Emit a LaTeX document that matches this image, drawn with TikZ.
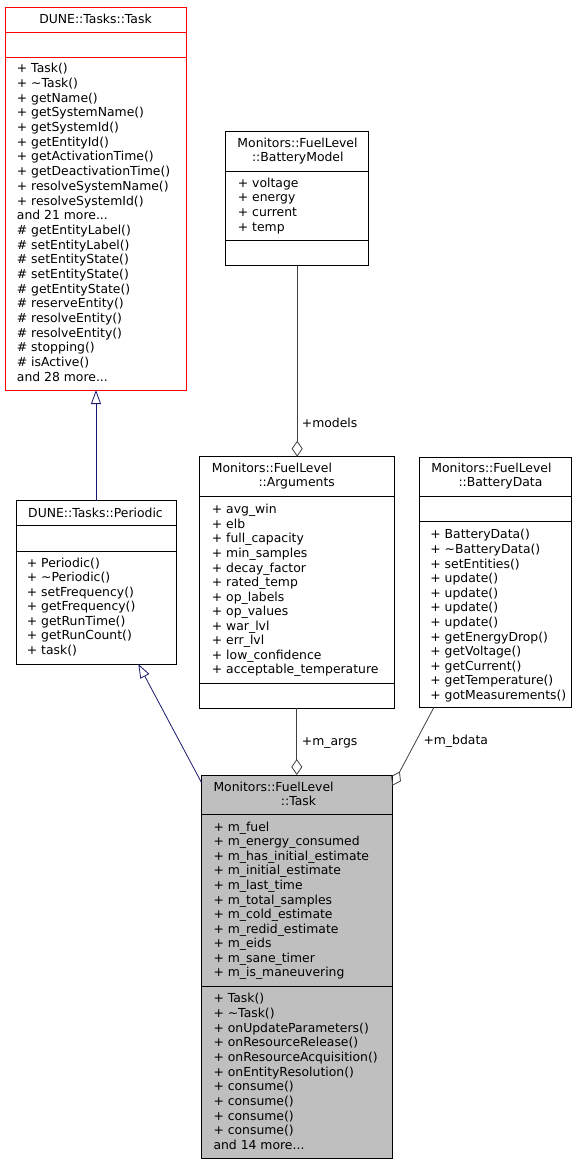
\documentclass[tikz,border=0pt]{standalone}
\usepackage{fontspec}
\setmainfont{DejaVu Sans}
\usetikzlibrary{arrows.meta}
\definecolor{edgeblue}{HTML}{191970}
\definecolor{edgegray}{HTML}{404040}
\definecolor{fillgray}{HTML}{BFBFBF}
\newcommand{\moredots}{...}
\begin{document}
\begin{tikzpicture}[x=1pt,y=-1pt,
  umlbox/.style={draw=black,line width=0.9pt,fill=white,anchor=north west,inner sep=0pt,outer sep=0pt},
  item/.style={anchor=west,inner sep=0pt,text height=9.1pt,text depth=0pt,font=\fontsize{12.4pt}{14.6pt}\selectfont},
  ctitle/.style={anchor=center,inner sep=0pt,text height=9.1pt,text depth=0pt,font=\fontsize{12.4pt}{14.6pt}\selectfont},
  inh/.style={draw=edgeblue,line width=0.8pt,-{Triangle[open,length=14pt,width=10pt]}},
  agg/.style={draw=edgegray,line width=0.8pt,-{Diamond[open,length=16pt,width=11pt]}},
  sep/.style={draw=black,line width=0.9pt}]
\useasboundingbox (0,0) rectangle (588,1165);

% ---------- DUNE::Tasks::Task ----------
\node[umlbox,draw=red,minimum width=181pt,minimum height=383pt] (task) at (5,7) {};
\draw[sep,draw=red] ([yshift=-25pt]task.north west) -- ([yshift=-25pt]task.north east);
\draw[sep,draw=red] ([yshift=-50pt]task.north west) -- ([yshift=-50pt]task.north east);
\node[ctitle] (tasktitle) at (95.5,18.8) {DUNE::Tasks::Task};
\foreach \t [count=\i] in {+ Task(),+ \textasciitilde Task(),+ getName(),+ getSystemName(),+ getSystemId(),+ getEntityId(),+ getActivationTime(),+ getDeactivationTime(),+ resolveSystemName(),+ resolveSystemId(),and 21 more\moredots,\# getEntityLabel(),\# setEntityLabel(),\# setEntityState(),\# setEntityState(),\# getEntityState(),\# reserveEntity(),\# resolveEntity(),\# resolveEntity(),\# stopping(),\# isActive(),and 28 more\moredots}
  \node[item] (taskm\i) at (16.7,{68.3+(\i-1)*14.69}) {\t};

% ---------- DUNE::Tasks::Periodic ----------
\node[umlbox,minimum width=160pt,minimum height=163.3pt] (per) at (16,500.7) {};
\draw[sep] ([yshift=-25pt]per.north west) -- ([yshift=-25pt]per.north east);
\draw[sep] ([yshift=-51pt]per.north west) -- ([yshift=-51pt]per.north east);
\node[ctitle] (pertitle) at (95.5,512.7) {DUNE::Tasks::Periodic};
\foreach \t [count=\i] in {+ Periodic(),+ \textasciitilde Periodic(),+ setFrequency(),+ getFrequency(),+ getRunTime(),+ getRunCount(),+ task()}
  \node[item] (perm\i) at (26.7,{562.7+(\i-1)*14.5}) {\t};

% ---------- BatteryModel ----------
\node[umlbox,minimum width=143pt,minimum height=134.7pt] (bm) at (225.7,131) {};
\draw[sep] ([yshift=-40.3pt]bm.north west) -- ([yshift=-40.3pt]bm.north east);
\draw[sep] ([yshift=-109.7pt]bm.north west) -- ([yshift=-109.7pt]bm.north east);
\node[ctitle] (bmt1) at (297.5,143) {Monitors::FuelLevel};
\node[ctitle] (bmt2) at (297.8,157.3) {::BatteryModel};
\foreach \t [count=\i] in {+ voltage,+ energy,+ current,+ temp}
  \node[item] (bmf\i) at (237.7,{182.7+(\i-1)*14.67}) {\t};

% ---------- Arguments ----------
\node[umlbox,minimum width=195pt,minimum height=251.6pt] (args) at (199.3,456.7) {};
\draw[sep] ([yshift=-39.3pt]args.north west) -- ([yshift=-39.3pt]args.north east);
\draw[sep] ([yshift=-226.6pt]args.north west) -- ([yshift=-226.6pt]args.north east);
\node[item] (argt1) at (211.7,468.3) {Monitors::FuelLevel};
\node[item] (argt2) at (258.3,482.3) {::Arguments};
\foreach \t [count=\i] in {+ avg\_win,+ elb,+ full\_capacity,+ min\_samples,+ decay\_factor,+ rated\_temp,+ op\_labels,+ op\_values,+ war\_lvl,+ err\_lvl,+ low\_confidence,+ acceptable\_temperature}
  \node[item] (argf\i) at (211.7,{509.3+(\i-1)*14.55}) {\t};

% ---------- BatteryData ----------
\node[umlbox,minimum width=151.7pt,minimum height=250pt] (bd) at (419.3,457.3) {};
\draw[sep] ([yshift=-38.7pt]bd.north west) -- ([yshift=-38.7pt]bd.north east);
\draw[sep] ([yshift=-63.7pt]bd.north west) -- ([yshift=-63.7pt]bd.north east);
\node[item] (bdt1) at (431.2,468.3) {Monitors::FuelLevel};
\node[item] (bdt2) at (458.3,482.3) {::BatteryData};
\foreach \t [count=\i] in {+ BatteryData(),+ \textasciitilde BatteryData(),+ setEntities(),+ update(),+ update(),+ update(),+ update(),+ getEnergyDrop(),+ getVoltage(),+ getCurrent(),+ getTemperature(),+ gotMeasurements()}
  \node[item] (bdm\i) at (430.2,{534.3+(\i-1)*14.6}) {\t};

% ---------- Monitors::FuelLevel::Task ----------
\node[umlbox,fill=fillgray,minimum width=190.6pt,minimum height=383.3pt] (flt) at (201.7,775) {};
\draw[sep] ([yshift=-39pt]flt.north west) -- ([yshift=-39pt]flt.north east);
\draw[sep] ([yshift=-211.7pt]flt.north west) -- ([yshift=-211.7pt]flt.north east);
\node[item] (fltt1) at (213.3,787.3) {Monitors::FuelLevel};
\node[item] (fltt2) at (280.7,800.7) {::Task};
\foreach \t [count=\i] in {+ m\_fuel,+ m\_energy\_consumed,+ m\_has\_initial\_estimate,+ m\_initial\_estimate,+ m\_last\_time,+ m\_total\_samples,+ m\_cold\_estimate,+ m\_redid\_estimate,+ m\_eids,+ m\_sane\_timer,+ m\_is\_maneuvering}
  \node[item] (fltf\i) at (213.3,{826.7+(\i-1)*14.56}) {\t};
\foreach \t [count=\i] in {+ Task(),+ \textasciitilde Task(),+ onUpdateParameters(),+ onResourceRelease(),+ onResourceAcquisition(),+ onEntityResolution(),+ consume(),+ consume(),+ consume(),+ consume(),and 14 more\moredots}
  \node[item] (fltm\i) at (213.3,{998.3+(\i-1)*14.67}) {\t};

% ---------- connectors ----------
\draw[inh] (per.north) -- (per.north |- task.south);
\draw[inh] ([yshift=-8pt]flt.north west) -- ([xshift=42.3pt]per.south);
\draw[agg] (bm.south) -- (bm.south |- args.north);
\draw[agg] (args.south) -- (args.south |- flt.north);
\draw[agg] ([xshift=-61.2pt]bd.south) -- ([yshift=-10.7pt]flt.north east);

\node[item] (lmodels) at (301.7,422.7) {+models};
\node[item] (largs) at (301.7,740.7) {+m\_args};
\node[item] (lbdata) at (423.3,740) {+m\_bdata};
\end{tikzpicture}
\end{document}
